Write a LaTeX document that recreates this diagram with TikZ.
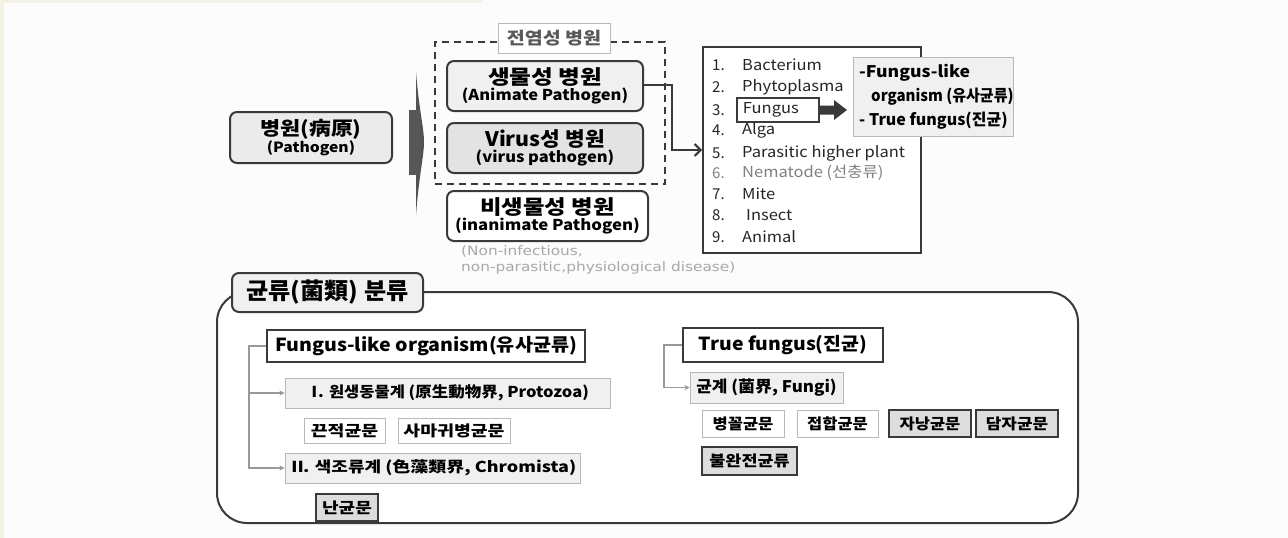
\documentclass[tikz,border=0pt]{standalone}
\usepackage{graphicx}
\usepackage{fontspec}
\setmainfont{Noto Sans CJK KR}
\newfontfamily\notefont{DejaVu Sans}
\usetikzlibrary{arrows.meta}
\definecolor{dk}{HTML}{3A3A3A}
\definecolor{beige}{HTML}{F4F1E6}
\definecolor{gA}{HTML}{EBEBEB}
\definecolor{gB}{HTML}{F0F0F0}
\definecolor{gC}{HTML}{E3E3E3}
\definecolor{gD}{HTML}{DDDDDD}
\definecolor{lb}{HTML}{B8B8B8}
\definecolor{notegray}{HTML}{A8A8A8}
\newcommand{\fsz}[2]{\fontsize{#1}{#2}\selectfont}
\newcommand{\hs}[2]{\scalebox{#1}[1]{#2}}
\tikzset{
  rbox/.style={draw=dk, line width=2pt, rounded corners=7pt, align=center, inner sep=0pt},
  hbox/.style={draw=dk, line width=2.4pt, fill=white, inner sep=0pt, align=center},
  lbox/.style={draw=lb, line width=1pt, fill=gB, inner sep=0pt, align=center},
  wbox/.style={draw=lb, line width=1pt, fill=white, inner sep=0pt, align=center},
  dbox/.style={draw=dk, line width=2.4pt, fill=gD, inner sep=0pt, align=center},
  item/.style={anchor=west, inner sep=0pt, font=\fsz{15}{18}, text=black!85},
  fline/.style={anchor=west, inner sep=0pt, font=\fsz{16}{18}\bfseries},
  tree/.style={draw=black!40, line width=1.2pt, -{Stealth[length=5pt,width=5pt]}},
  conn/.style={draw=dk, line width=2pt, -{Straight Barb[length=6pt,width=12pt]}},
}
\begin{document}
\begin{tikzpicture}[x=1pt,y=-1pt]
\useasboundingbox (0,0) rectangle (1288,538);
\fill[white!99!black] (0,0) rectangle (1288,538);
\fill[beige] (0,0) rectangle (3.5,538);
\fill[beige] (0,0) rectangle (483,2.5);

% ---------- top part ----------
\node[rbox, fill=gA, minimum width=162, minimum height=51] (pathogen) at (311,137.5)
  {\fsz{19}{19}\bfseries\hs{1.15}{병원(病原)}\\[0pt]\fsz{14}{20}\bfseries\hs{1.12}{(Pathogen)}};

% chevron
\fill[black!68] (416,72) .. controls (419,110) and (424,128) .. (424,142)
  .. controls (424,156) and (419,175) .. (416,215) -- cycle;
\fill[black!66] (409,110) rectangle (420,175);

\node[draw=dk, line width=1.8pt, dash pattern=on 7pt off 5pt, minimum width=230, minimum height=142, inner sep=0pt] (infect) at (550,113) {};
\node[draw=lb, line width=1pt, fill=white, minimum width=112, minimum height=30, inner sep=0pt] (infectlbl) at (554,38)
  {\fsz{17}{18}\bfseries\color{black!65}\hs{1.15}{전염성 병원}};

\node[rbox, fill=gB, minimum width=196, minimum height=50] (animate) at (545,86)
  {\fsz{20}{20}\bfseries\hs{1.18}{생물성 병원}\\[1pt]\fsz{15}{20}\bfseries\hs{1.1}{(Animate Pathogen)}};
\node[rbox, fill=gC, minimum width=196, minimum height=50] (virus) at (545,148)
  {\fsz{20}{20}\bfseries\hs{1.07}{Virus성 병원}\\[1pt]\fsz{15}{20}\bfseries\hs{1.1}{(virus pathogen)}};
\node[rbox, fill=white, minimum width=201, minimum height=50] (inanimate) at (547.5,216)
  {\fsz{20}{20}\bfseries\hs{1.17}{비생물성 병원}\\[1pt]\fsz{15}{20}\bfseries\hs{1.12}{(inanimate Pathogen)}};

\node[anchor=north west, inner sep=0pt, align=left, text=notegray, font=\notefont\fontsize{13}{16}\selectfont] (note) at (461,245)
  {\hs{1.18}{(Non-infectious,}\\\hs{1.18}{non-parasitic,physiological disease)}};

% list box
\node[draw=dk, line width=2pt, fill=white, minimum width=218, minimum height=206, inner sep=0pt] (list) at (812,150) {};
\node[item] (n1) at (712,65) {1.};  \node[item] (t1) at (742,65) {\hs{1.1}{Bacterium}};
\node[item] (n2) at (712,87) {2.};  \node[item] (t2) at (742,87) {\hs{1.1}{Phytoplasma}};
\node[item] (n3) at (712,110) {3.};
\node[draw=dk, line width=1.8pt, fill=white, anchor=west, minimum width=82, minimum height=24, inner xsep=6pt, inner ysep=0pt, text width=70pt, align=left, font=\fsz{15}{18}, text=black!85] (fungus) at (736,110) {\hs{1.1}{Fungus}};
\node[item] (n4) at (712,130) {4.};  \node[item] (t4) at (742,130) {\hs{1.1}{Alga}};
\node[item] (n5) at (712,153) {5.};  \node[item] (t5) at (742,153) {\hs{1.1}{Parasitic higher plant}};
\node[item, text=black!50] (n6) at (712,173) {6.};  \node[item, text=black!50] (t6) at (742,173) {\hs{1.1}{Nematode (선충류)}};
\node[item] (n7) at (712,194) {7.};  \node[item] (t7) at (742,194) {\hs{1.1}{Mite}};
\node[item] (n8) at (712,215) {8.};  \node[item] (t8) at (746,215) {\hs{1.1}{Insect}};
\node[item] (n9) at (712,237) {9.};  \node[item] (t9) at (742,237) {\hs{1.1}{Animal}};

\node[draw=lb, line width=1pt, fill=gB, minimum width=160, minimum height=79, inner sep=0pt] (fbox) at (933,96.5) {};
\node[fline] (fb1) at (859,73) {\hs{1.1}{-Fungus-like}};
\node[fline] (fb2) at (871,97) {\hs{0.94}{organism (유사균류)}};
\node[fline] (fb3) at (859,121) {\hs{1.0}{- True fungus(진균)}};

% fat arrow fungus -> fbox
\fill[dk] (fungus.east |- 0,105.5) -- (834,105.5) -- (834,100) -- (847,110) -- (834,120) -- (834,114.5) -- (fungus.east |- 0,114.5) -- cycle;

% connector animate -> list
\coordinate (cturn) at (672,85);
\draw[conn] (animate.east |- cturn) -- (cturn) |- (list.west);

% ---------- bottom part ----------
\node[draw=dk, line width=2pt, fill=white, rounded corners=30pt, minimum width=861, minimum height=231, inner sep=0pt] (big) at (647.5,407.5) {};
\node[rbox, fill=gB, minimum width=191, minimum height=39] (cls) at (327.5,292.5)
  {\fsz{23}{24}\bfseries\hs{1.05}{균류(菌類) 분류}};

\node[hbox, minimum width=318, minimum height=32] (fl) at (426,346)
  {\fsz{18}{20}\bfseries\hs{1.09}{Fungus-like organism(유사균류)}};
\node[lbox, minimum width=325, minimum height=30] (p1) at (447.5,393)
  {\fsz{15}{16}\bfseries\hs{1.1}{Ⅰ\kern-4pt. 원생동물계 (原生動物界, Protozoa)}};
\node[wbox, minimum width=81, minimum height=25] (s1) at (344.5,430.5)
  {\fsz{15}{15}\bfseries\hs{1.22}{끈적균문}};
\node[wbox, minimum width=112, minimum height=25] (s2) at (454,430.5)
  {\fsz{15}{15}\bfseries\hs{1.22}{사마귀병균문}};
\node[lbox, minimum width=295, minimum height=30] (p2) at (432.5,468)
  {\fsz{15}{16}\bfseries\hs{1.2}{Ⅱ\kern-3pt. 색조류계 (色藻類界, Chromista)}};
\node[dbox, minimum width=62, minimum height=27] (s3) at (347,507.5)
  {\fsz{15}{15}\bfseries\hs{1.2}{난균문}};

\coordinate (tl) at (249,346);
\draw[tree] (fl.west) -- (tl) |- (p2.west);
\draw[tree] (tl) |- (p1.west);

\node[hbox, minimum width=200, minimum height=34] (tf) at (783,345)
  {\fsz{18}{20}\bfseries\hs{1.08}{True fungus(진균)}};
\node[lbox, minimum width=153, minimum height=31] (fungi) at (766.5,387.5)
  {\fsz{16}{16}\bfseries\hs{1.06}{균계 (菌界, Fungi)}};
\node[wbox, minimum width=82, minimum height=27] (r1) at (743,423.5) {\fsz{15}{15}\bfseries\hs{1.1}{병꼴균문}};
\node[wbox, minimum width=81, minimum height=27] (r2) at (837.5,423.5) {\fsz{15}{15}\bfseries\hs{1.1}{접합균문}};
\node[dbox, minimum width=82, minimum height=27] (r3) at (930,423.5) {\fsz{15}{15}\bfseries\hs{1.1}{자낭균문}};
\node[dbox, minimum width=82, minimum height=27] (r4) at (1017,423.5) {\fsz{15}{15}\bfseries\hs{1.13}{담자균문}};
\node[dbox, minimum width=95, minimum height=28] (r5) at (749.5,461) {\fsz{15}{15}\bfseries\hs{1.16}{불완전균류}};

\coordinate (tr) at (664,345);
\draw[tree] (tf.west) -- (tr) |- (fungi.west);
\end{tikzpicture}
\end{document}
